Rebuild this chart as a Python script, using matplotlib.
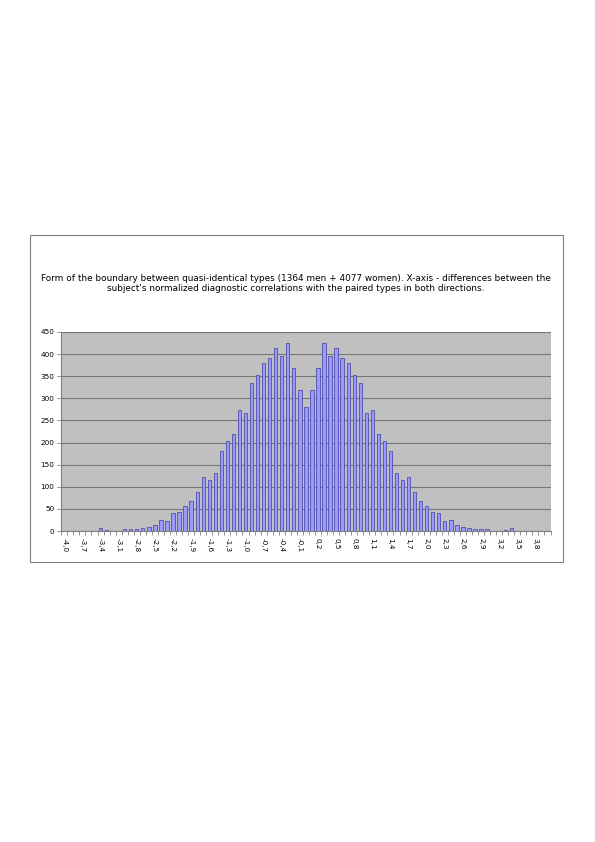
import matplotlib
matplotlib.use("Agg")
import matplotlib.pyplot as plt
from matplotlib.patches import Rectangle
import numpy as np

# Category labels: -4.0 ... 4.0 in steps of 0.1 (81 bins)
categories = [f"{v/10:.1f}".replace(".", ",") for v in range(-40, 41)]
counts = [0, 0, 0, 0, 0, 0, 6, 2, 0, 0,
          4, 4, 4, 6, 8, 13, 24, 22, 40, 44,
          56, 67, 89, 123, 116, 132, 180, 204, 220, 274,
          267, 335, 353, 380, 391, 414, 395, 425, 368, 319,
          280,
          319, 368, 425, 395, 414, 391, 380, 353, 335, 267,
          274, 220, 204, 180, 132, 116, 123, 89, 67, 56,
          44, 40, 22, 24, 13, 8, 6, 4, 4, 4,
          0, 0, 2, 6, 0, 0, 0, 0, 0, 0]
yticks = list(range(0, 451, 50))
title = ("Form of the boundary between quasi-identical types (1364 men + 4077 women). X-axis - differences between the\n"
         "subject's normalized diagnostic correlations with the paired types in both directions.")

plt.rcParams['font.family'] = ['DejaVu Sans']
fig = plt.figure(figsize=(5.95, 8.42), dpi=100)

# outer frame
fig.patches.append(Rectangle((30/595, 1-562/842), (563-30)/595, (562-235)/842,
                             transform=fig.transFigure, fill=False,
                             edgecolor='#808080', linewidth=0.8))

fig.text(296/595, 1-283.5/842, title, ha='center', va='center',
         fontsize=6.38, linespacing=1.12, color='black')

ax = fig.add_axes([61.3/595, 1-531/842, (550.5-61.3)/595, (531-332)/842])
ax.set_facecolor('#C0C0C0')
x = np.arange(len(categories))
ax.bar(x, counts, width=0.55, color='#9999FF', edgecolor='#4F4FA8', linewidth=0.6, zorder=3)
ax.set_xlim(-0.5, len(categories) - 0.5)
ax.set_ylim(0, 450)
ax.set_yticks(yticks)
ax.set_yticklabels([str(t) for t in yticks], fontsize=5.2)
ax.yaxis.grid(True, color='#777777', linewidth=0.8, zorder=1)
ax.set_axisbelow(True)

major = x[::3]
ax.set_xticks(major)
ax.set_xticklabels([categories[i] for i in major], rotation=-90, fontsize=5.2)
ax.set_xticks(np.arange(-0.5, len(categories), 1), minor=True)
ax.tick_params(axis='x', which='major', length=0, pad=5)
ax.tick_params(axis='x', which='minor', length=3, color='#808080', width=0.6)
ax.tick_params(axis='y', length=3, color='#808080', width=0.6, pad=2)

for s in ['top', 'right']:
    ax.spines[s].set_visible(False)
for s in ['left', 'bottom']:
    ax.spines[s].set_color('#808080')
    ax.spines[s].set_linewidth(0.8)

fig.savefig('out.png', dpi=100)
